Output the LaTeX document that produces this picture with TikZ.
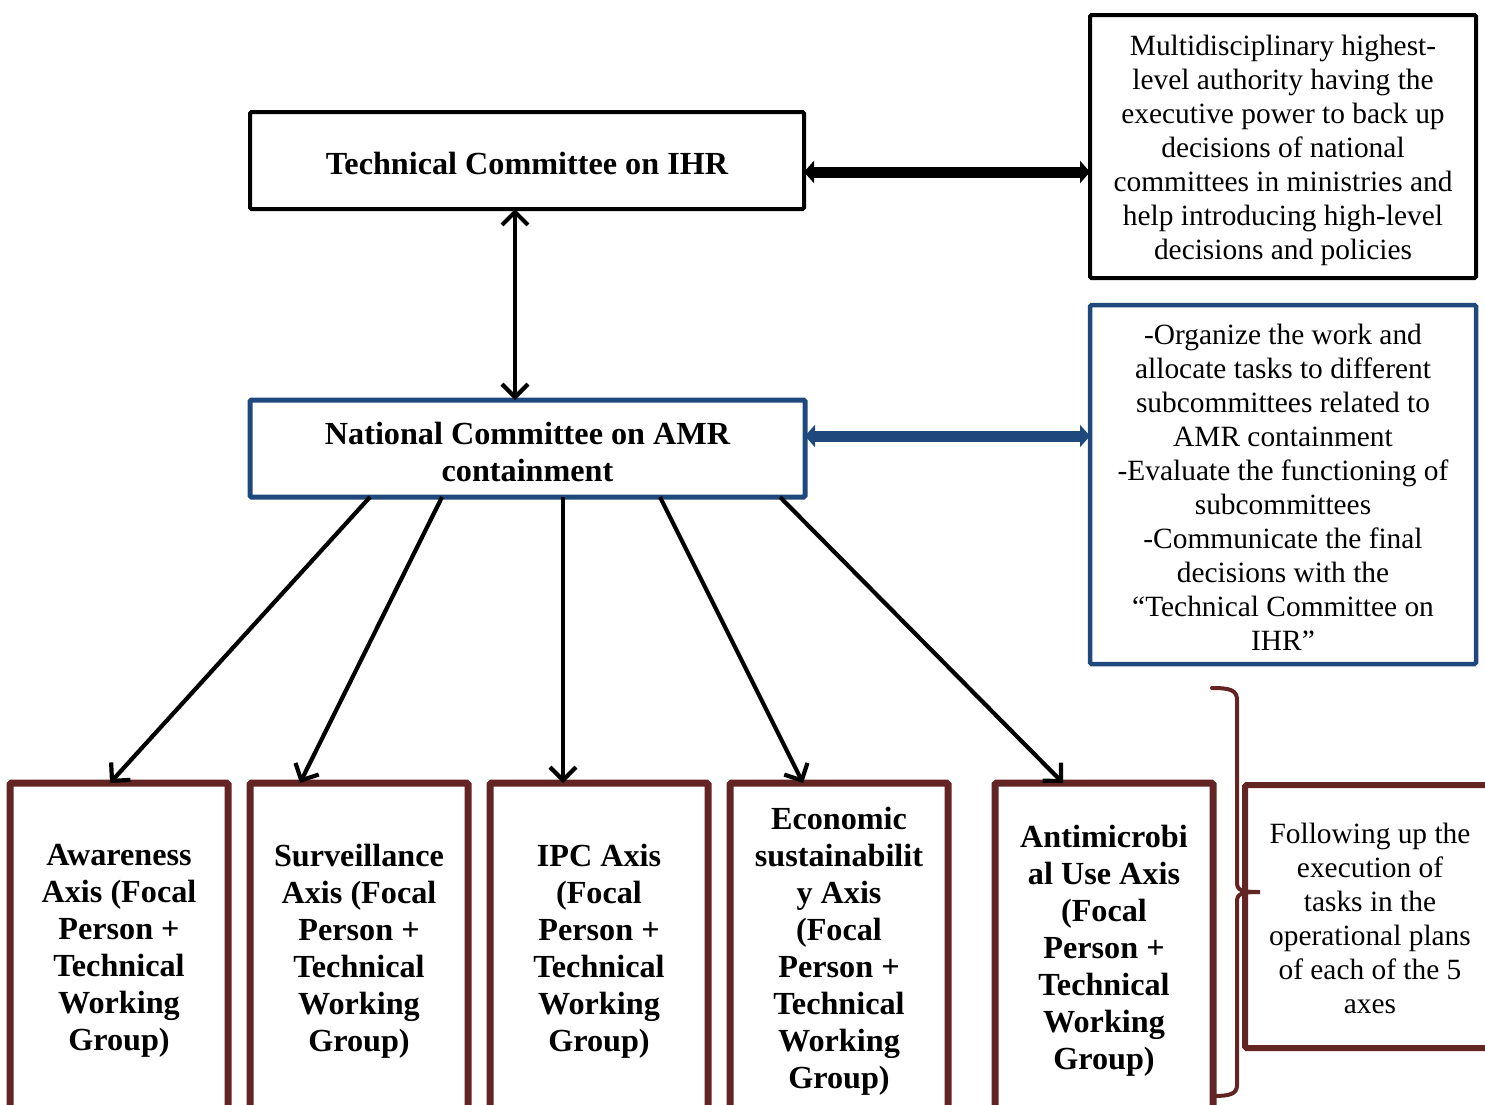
\documentclass[tikz,border=0pt]{standalone}
\usepackage{fontspec}
\setmainfont{Liberation Serif}
\usetikzlibrary{arrows.meta,calc}
\definecolor{dblue}{RGB}{31,73,125}
\definecolor{dred}{RGB}{99,37,35}
\begin{document}
\begin{tikzpicture}[x=1pt,y=-1pt,
  box/.style={draw, inner sep=0pt, outer sep=0pt, rounded corners=1.5pt},
  bigtext/.style={align=center, font=\fontsize{32.2}{37}\selectfont\bfseries},
  bodytext/.style={align=center, font=\fontsize{29.4}{34}\selectfont},
  axisbox/.style={box, draw=dred, line width=7pt, minimum width=218pt, minimum height=328pt},
  thinarrow/.style={line width=4.2pt, -{Straight Barb[length=13pt,width=26pt]}},
  thindouble/.style={line width=4.2pt, {Straight Barb[length=13pt,width=26pt]}-{Straight Barb[length=13pt,width=26pt]}},
  fatdouble/.style={line width=11pt, {Triangle[length=10pt,width=22pt]}-{Triangle[length=10pt,width=22pt]}}
]
\useasboundingbox (0,0) rectangle (1485,1104);
\clip (0,0) rectangle (1485,1104);

\node[box, line width=4pt, minimum width=554pt, minimum height=97pt,
  label={[bigtext,yshift=-3pt]center:{Technical Committee on IHR}}] (tc) at (527,160.5) {};
\node[box, line width=4pt, minimum width=386pt, minimum height=263pt,
  label={[bodytext,yshift=-4pt]center:{Multidisciplinary highest-\\level authority having the\\executive power to back up\\decisions of national\\committees in ministries and\\help introducing high-level\\decisions and policies}}] (exec) at (1283,146.5) {};

\node[box, draw=dblue, line width=5pt, minimum width=555pt, minimum height=97pt,
  label={[bigtext,yshift=-3pt]center:{National Committee on AMR\\containment}}] (nc) at (527.5,448.5) {};
\node[box, draw=dblue, line width=4.5pt, minimum width=386pt, minimum height=359pt,
  label={[bodytext,yshift=-3pt]center:{-Organize the work and\\allocate tasks to different\\subcommittees related to\\AMR containment\\-Evaluate the functioning of\\subcommittees\\-Communicate the final\\decisions with the\\“Technical Committee on\\IHR”}}] (org) at (1283,484.5) {};

\node[axisbox, label={[bigtext,yshift=-4pt]center:{Awareness\\Axis (Focal\\Person +\\Technical\\Working\\Group)}}] (a1) at (119,947) {};
\node[axisbox, label={[bigtext,yshift=-4pt]center:{Surveillance\\Axis (Focal\\Person +\\Technical\\Working\\Group)}}] (a2) at (359,947) {};
\node[axisbox, label={[bigtext,yshift=-4pt]center:{IPC Axis\\(Focal\\Person +\\Technical\\Working\\Group)}}] (a3) at (599,947) {};
\node[axisbox, label={[bigtext,yshift=-4pt]center:{Economic\\sustainabilit\\y Axis\\(Focal\\Person +\\Technical\\Working\\Group)}}] (a4) at (839,947) {};
\node[axisbox, label={[bigtext,yshift=-4pt]center:{Antimicrobi\\al Use Axis\\(Focal\\Person +\\Technical\\Working\\Group)}}] (a5) at (1104,947) {};

\node[box, draw=dred, line width=6pt, minimum width=250pt, minimum height=263pt,
  label={[bodytext,yshift=-2pt]center:{Following up the\\execution of\\tasks in the\\operational plans\\of each of the 5\\axes}}] (fol) at (1370,916.5) {};

\draw[fatdouble, black] ([yshift=-11.5pt]tc.east) -- (exec.west |- 0,172);
\draw[fatdouble, dblue] ([yshift=12.5pt]nc.east) -- (org.west |- 0,436);
\draw[thindouble] ([xshift=-12pt]tc.south) -- ([xshift=-12.5pt]nc.north);

\draw[thinarrow] ([xshift=120pt]nc.south west) -- ([xshift=100pt]a1.north west);
\draw[thinarrow] ([xshift=192pt]nc.south west) -- ([xshift=50pt]a2.north west);
\draw[thinarrow] ([xshift=313pt]nc.south west) -- ([xshift=73pt]a3.north west);
\draw[thinarrow] ([xshift=410pt]nc.south west) -- ([xshift=73pt]a4.north west);
\draw[thinarrow] ([xshift=530pt]nc.south west) -- ([xshift=68pt]a5.north west);

\draw[dred, line width=4pt, line cap=round]
  (1212,688) .. controls (1230,688) and (1237,690) .. (1237,700) -- (1237,882)
  .. controls (1237,890) and (1240,892) .. (1260,892)
  .. controls (1240,892) and (1237,894) .. (1237,902) -- (1237,1085)
  .. controls (1237,1094) and (1230,1096) .. (1213,1096);
\end{tikzpicture}
\end{document}
